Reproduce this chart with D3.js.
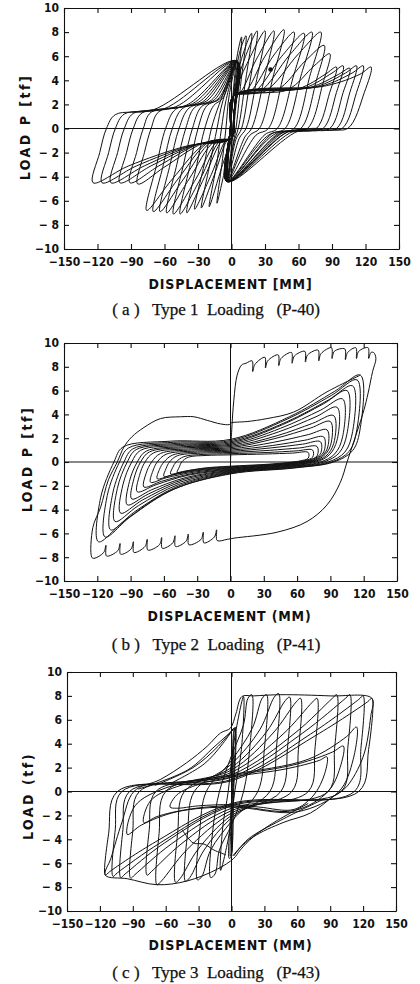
<!DOCTYPE html>
<html lang="en">
<head>
<meta charset="UTF-8">
<title>Load - displacement hysteresis loops</title>
<script src="https://d3js.org/d3.v7.min.js"></script>
<style>
  body { margin: 0; background: #fff; }
  svg { display: block; }
  .tick text { font-family: "DejaVu Sans Condensed", "Liberation Sans Narrow", "DejaVu Sans", sans-serif; font-stretch: condensed; font-weight: bold; font-size: 12px; fill: #111; }
  .tick line, .domain { stroke: #111; stroke-width: 1.1; }
  .axis-title { font-family: "DejaVu Sans Condensed", "Liberation Sans Narrow", "DejaVu Sans", sans-serif; font-stretch: condensed; font-weight: bold; font-size: 14px; fill: #111; }
  .caption { font-family: "Liberation Serif", "DejaVu Serif", serif; font-size: 17px; fill: #111; stroke: #111; stroke-width: 0.25; }
  .loop { fill: none; stroke: #111; stroke-width: 1; }
</style>
</head>
<body>
<svg id="chart" width="420" height="984"></svg>
<script>
// shared axes
const xTicks = [-150, -120, -90, -60, -30, 0, 30, 60, 90, 120, 150];
const xTickLabels = ["\u2212150", "\u2212120", "\u221290", "\u221260", "\u221230", "0", "30", "60", "90", "120", "150"];
const yTicks = [-10, -8, -6, -4, -2, 0, 2, 4, 6, 8, 10];
const yTickLabels = ["\u221210", "\u2212 8", "\u2212 6", "\u2212 4", "\u2212 2", "0", "2", "4", "6", "8", "10"];

// (a) Type 1 loading, cycles growing on the positive side (x, P pairs)
const loopsA_pos = [
  [-4,-4.4, -1,0, 2,3.5, 5,6, 9,7.6, 5,3, 2,0, 0,-1.5],
  [-4,-4.4, -1,0, 2,3, 7,6.2, 13,7.7, 8,3.5, 4,0, 1,-1.5],
  [-4,-4.4, -1,0, 2,2.8, 9,5.8, 18,7.9, 12,3.6, 6,0, 2,-1.2],
  [-4,-4.4, -1,0, 2,2.7, 11,5.6, 23,8.1, 16,3.6, 9,0, 4,-0.9],
  [-4,-4.4, -1,0, 2,2.7, 14,5.4, 30,8.1, 22,3.8, 13,0, 7,-0.8],
  [-4,-4.4, -1,0, 2,2.7, 8,3.0, 22,5.7, 38,8.1, 29,4, 18,0, 12,-0.7],
  [-4,-4.4, -1,0, 2,2.7, 12,3.0, 30,6.0, 47,8.2, 37,4.2, 25,0, 16,-0.6],
  [-4,-4.4, -1,0, 2,2.7, 16,3.0, 38,6.1, 56,8.0, 46,4.2, 33,0, 22,-0.55],
  [-4,-4.4, -1,0, 2,2.7, 20,3.0, 45,6.0, 65,7.9, 55,4.2, 41,0, 30,-0.5],
  [-4,-4.4, -1,0, 2,2.7, 25,3.05, 52,6.1, 72,8.0, 62,4.3, 48,0, 36,-0.45],
  [-4,-4.4, -1,0, 2,2.7, 30,3.1, 60,6.2, 80,8.0, 70,4.3, 56,0, 42,-0.4],
  [-4,-4.4, -1,0, 2,2.7, 40,3.15, 66,5.6, 83,6.9, 76,4, 62,0, 46,-0.35],
  [-4,-4.4, -1,0, 2,2.7, 50,3.2, 74,5.2, 88,6.2, 82,3.8, 68,0, 50,-0.3],
  [-4,-4.4, -1,0, 2,2.7, 60,3.3, 84,4.5, 94,5.1, 88,3, 76,0, 60,-0.25, 35,-0.45],
  [-4,-4.4, -1,0, 2,2.7, 65,3.35, 90,4.6, 100,5.2, 94,3, 82,0, 65,-0.2, 40,-0.4],
  [-4,-4.4, -1,0, 2,2.7, 70,3.4, 96,4.5, 106,5.0, 100,3, 88,0, 70,-0.15, 45,-0.35],
  [-4,-4.4, -1,0, 2,2.7, 75,3.45, 102,4.6, 112,5.2, 106,3, 94,0, 75,-0.1, 50,-0.3],
  [-4,-4.4, -1,0, 2,2.7, 80,3.5, 108,4.6, 118,5.2, 112,3, 99,0, 80,-0.05, 55,-0.25],
  [-4,-4.4, -1,0, 2,2.7, 85,3.55, 115,4.5, 125,5.1, 119,3, 104,0, 85,0, 60,-0.2]
];
// (a) cycles growing on the negative side
const loopsA_neg = [
  [5,5.6, 2,1, 0,-0.8, -5,-3, -13,-6.2, -8,-2.5, -5,0, -2,2.8],
  [5,5.6, 2,1, 0,-0.8, -8,-3, -20,-6.5, -13,-2.8, -9,0, -5,2.3],
  [5,5.6, 2,1, 0,-0.8, -4,-1, -14,-3.5, -27,-6.6, -19,-2.8, -13,0, -8,2.2],
  [5,5.6, 2,1, 0,-0.8, -5,-1, -18,-3.8, -33,-6.7, -24,-2.8, -18,0, -11,2.0],
  [5,5.6, 2,1, 0,-0.8, -8,-1, -24,-4, -40,-7, -31,-3, -24,0, -16,1.9, -8,2.5],
  [5,5.6, 2,1, 0,-0.8, -10,-1, -28,-4.2, -46,-7.1, -37,-3, -30,0, -22,1.9, -10,2.5],
  [5,5.6, 2,1, 0,-0.8, -12,-1, -32,-4.2, -52,-7.1, -43,-3, -35,0, -27,1.8, -12,2.45],
  [5,5.6, 2,1, 0,-0.8, -15,-1.05, -38,-4.2, -58,-7, -49,-3, -41,0, -33,1.75, -15,2.4],
  [5,5.6, 2,1, 0,-0.8, -18,-1.1, -43,-4.2, -64,-6.9, -55,-3, -47,0, -38,1.7, -18,2.35],
  [5,5.6, 2,1, 0,-0.8, -20,-1.1, -48,-4.2, -70,-6.9, -61,-3, -53,0, -44,1.65, -22,2.3],
  [5,5.6, 2,1, 0,-0.8, -22,-1.15, -53,-4.2, -76,-6.8, -67,-3, -59,0, -50,1.6, -26,2.2],
  [5,5.6, 2,1, 0,-0.8, -25,-1.2, -60,-3.2, -84,-4.6, -78,-2, -72,0, -65,1.4, -30,2.15],
  [5,5.6, 2,1, 0,-0.8, -28,-1.25, -65,-3.1, -91,-4.5, -85,-2, -79,0, -72,1.35, -35,2.05],
  [5,5.6, 2,1, 0,-0.8, -30,-1.3, -72,-3.1, -100,-4.5, -94,-2, -88,0, -80,1.3, -40,1.95],
  [5,5.6, 2,1, 0,-0.8, -33,-1.35, -78,-3.1, -108,-4.5, -102,-2, -96,0, -88,1.25, -50,1.8],
  [5,5.6, 2,1, 0,-0.8, -36,-1.4, -85,-3.1, -116,-4.5, -110,-2, -104,0, -96,1.2, -60,1.65],
  [5,5.6, 2,1, 0,-0.8, -40,-1.45, -92,-3.1, -124,-4.5, -118,-2, -112,0, -104,1.15, -70,1.55]
];
const markA = [35, 4.9];

// (b) Type 2 loading: first big cycle with relaxation teeth, then shrinking cycles
const outerB = [
  0,0, 1,2.5, 3,5.2, 6,7.3, 10,8.15, 14,8.3, 19.5,8.5, 20,7.6, 22,8.2, 31,8.8, 31.5,7.9, 33.5,8.5,
  43,9.0, 43.5,8.1, 45.5,8.7, 55,9.2, 55.5,8.3, 57.5,8.9, 67,9.3, 67.5,8.4, 69.5,9.0, 79,9.4, 79.5,8.5, 81.5,9.1,
  91,9.6, 91.5,8.7, 93.5,9.3, 103,9.5, 103.5,8.6, 105.5,9.2, 113,9.6, 113.5,8.7, 115.5,9.3, 124,9.6, 124.5,8.7,
  126.5,9.2, 129,9.2, 131,8.7, 128,7.6, 124,5.8, 120,4.3, 111,1.7, 105,0, 99,-1.7, 87,-3.6, 69,-5.0, 42,-5.9,
  3,-6.4, -3,-6.5, -12,-6.6, -12.5,-5.7, -14.5,-6.3, -24,-6.8, -24.5,-5.9, -26.5,-6.5, -37.5,-6.95, -38,-6.05,
  -40,-6.65, -49.5,-7.1, -50,-6.2, -52,-6.8, -61.5,-7.25, -62,-6.35, -64,-6.95, -74.5,-7.4, -75,-6.5, -77,-7.1,
  -87,-7.6, -87.5,-6.7, -89.5,-7.3, -99,-7.75, -99.5,-6.85, -101.5,-7.45, -111.7,-7.9, -112.2,-7.0, -114.2,-7.6,
  -123,-8.1, -125,-8.0, -124,-5.5, -117,-3.8, -110,-1.5, -102,0, -96,1.26, -89,2.1, -78,2.9, -63,3.65, -45,3.8,
  -33,3.8, -21,3.5, -9,3.2, -1,3.15, 1,3.3, 6,3.35, 15,3.4, 33,3.65, 57,4.2, 87,5.9, 117,7.3
];
const loopsB = [
  [-119,-6.7, -117,-3.0, -105,0, -97,1.25, -54,1.75, 0,1.9, 53,3.8, 94,5.95, 117,7.3, 117,2.9, 110,0.95, 93,0, 58,-0.5, 0,-1.0, -54,-2.4, -95,-4.9],
  [-113,-6.3, -111,-2.8, -100,0, -92,1.17, -51,1.66, 0,1.8, 51,3.6, 91,5.6, 114,6.9, 114,2.8, 107,0.9, 91,0, 57,-0.48, 0,-0.95, -51,-2.29, -90,-4.59],
  [-108,-5.7, -106,-2.6, -96,0, -88,1.1, -49,1.56, 0,1.7, 50,3.35, 88,5.2, 110,6.4, 110,2.55, 103,0.83, 88,0, 55,-0.45, 0,-0.9, -49,-2.1, -86,-4.16],
  [-104,-5.0, -102,-2.25, -93,0, -85,1.04, -47,1.47, 0,1.6, 47,3.14, 84,4.9, 105,6.0, 105,2.4, 98,0.78, 84,0, 52,-0.43, 0,-0.85, -47,-1.89, -83,-3.67],
  [-99,-4.3, -97,-1.94, -89,0, -81,0.98, -45,1.38, 0,1.5, 45,2.83, 81,4.35, 101,5.3, 101,2.12, 94,0.69, 81,0, 50,-0.4, 0,-0.8, -45,-1.68, -79,-3.18],
  [-93,-3.6, -91,-1.62, -84,0, -76,0.91, -42,1.29, 0,1.4, 43,2.52, 77,3.8, 96,4.6, 96,1.84, 89,0.6, 77,0, 48,-0.38, 0,-0.75, -42,-1.46, -74,-2.69],
  [-89,-3.1, -87,-1.4, -81,0, -73,0.85, -40,1.2, 0,1.3, 42,2.21, 74,3.25, 93,3.9, 93,1.56, 86,0.5, 74,0, 46,-0.35, 0,-0.7, -40,-1.3, -71,-2.33],
  [-84,-2.5, -82,-1.13, -77,0, -69,0.78, -38,1.1, 0,1.2, 40,1.97, 72,2.85, 90,3.4, 90,1.36, 83,0.44, 72,0, 45,-0.33, 0,-0.65, -38,-1.11, -67,-1.91],
  [-78,-2.1, -76,-0.95, -71,0, -63,0.72, -35,1.01, 0,1.1, 39,1.66, 70,2.3, 87,2.7, 87,1.08, 80,0.35, 70,0, 43,-0.3, 0,-0.6, -35,-0.98, -62,-1.62],
  [-72,-1.7, -70,-0.77, -66,0, -58,0.65, -32,0.92, 0,1.0, 38,1.39, 67,1.83, 84,2.1, 84,0.84, 77,0.27, 67,0, 42,-0.28, 0,-0.55, -32,-0.84, -58,-1.33],
  [-66,-1.4, -64,-0.63, -60,0, -52,0.59, -30,0.83, 0,0.9, 36,1.18, 65,1.5, 81,1.7, 81,0.68, 74,0.22, 65,0, 40,-0.25, 0,-0.5, -30,-0.73, -53,-1.11],
  [-60,-1.2, -58,-0.54, -55,0, -48,0.52, -27,0.74, 0,0.8, 35,0.98, 62,1.18, 78,1.3, 78,0.52, 71,0.17, 62,0, 39,-0.23, 0,-0.45, -27,-0.64, -48,-0.96],
  [-54,-1.0, -52,-0.45, -49,0, -42,0.45, -24,0.64, 0,0.7, 33,0.8, 59,0.93, 74,1.0, 74,0.4, 67,0.13, 59,0, 37,-0.2, 0,-0.4, -24,-0.55, -43,-0.8],
  [-48,-0.9, -46,-0.4, -44,0, -38,0.4, -22,0.55, 0,0.6, 31,0.67, 56,0.75, 70,0.8, 70,0.32, 63,0.1, 56,0, 35,-0.18, 0,-0.35, -22,-0.49, -38,-0.72]
];

// (c) Type 3 loading
const outerC = [
  -115,-7.0, -110,-5.6, -100,-2.6, -89,0, -65,1.0, -41,2.4, -22,3.8, -10,4.9, -1,5.3, 4,6.5, 9.5,7.95, 20,8.0,
  45,8.1, 90,8.0, 128,7.8, 127,6.3, 120,2.9, 105,0.4, 93,-0.4, 72,-1.8, 47,-2.6, 20,-3.8, 8,-4.9, 2,-5.6,
  -13,-6.5, -41,-7.5, -68,-7.8, -95,-7.3
];
const loopsC = [
  [-10,-6.6, -8,-3, -3,0, 2,4, 11,7.95, 9,3.5, 3,0, -2,-3.5],
  [-19,-7.2, -17,-3.2, -11,0, 0,3.0, 11,5.6, 15,7.8, 18.6,8.1, 16.6,3.6, 11,0, 0,-2.8, -11,-4.9, -15,-6.9],
  [-31,-7.4, -29,-3.3, -23,0, 0,2.6, 19,5.3, 28,7.8, 32,8.1, 30,3.6, 24,0, 0,-2.5, -19,-4.9, -27,-7.1],
  [-42,-7.5, -40,-3.4, -34,0, 0,2.3, 26,5.2, 39,7.9, 43,8.2, 41,3.7, 35,0, 0,-2.2, -25,-4.9, -38,-7.2],
  [-51,-7.6, -49,-3.4, -43,0, 0,2.0, 32,5.0, 49,7.6, 53,7.9, 51,3.6, 45,0, 0,-2.0, -31,-4.9, -47,-7.3],
  [-68,-7.8, -66,-3.5, -60,0, 0,1.8, 38,4.9, 59,7.5, 63,7.8, 61,3.5, 55,0, 0,-1.8, -41,-4.9, -64,-7.5],
  [-77,-7.0, -75,-3.2, -69,0, 0,1.6, 47,4.8, 74,7.5, 78,7.8, 76,3.5, 70,0, 0,-1.6, -46,-4.4, -73,-6.7],
  [-92,-7.25, -90,-3.3, -84,0, 0,1.4, 58,4.9, 92,7.8, 96,8.1, 94,3.6, 88,0, 0,-1.4, -55,-4.4, -88,-6.95],
  [-101,-7.2, -99,-3.2, -93,0, 0,1.2, 65,4.9, 104,7.8, 108,8.1, 106,3.6, 100,0, 0,-1.2, -61,-4.3, -97,-6.9],
  [-108,-7.1, -106,-3.2, -100,0, 0,1.0, 72,4.8, 116,7.7, 120,8.0, 118,3.6, 112,0, 0,-1.1, -65,-4.3, -104,-6.8],
  [-115,-7.0, -112,-3.5, -104,0, 0,0.9, 77,4.7, 124,7.5, 128,7.8, 125,3.5, 116,0, 0,-1.0, -69,-4.2, -111,-6.7],
  [-56,-1.3, -50,-0.3, -30,0.6, 0,1.2, 50,1.9, 80,2.6, 87,2.9, 85,1.5, 75,-0.3, 57,-1.5, 25,-1.3, 0,-1.1, -30,-1.2, -50,-1.4],
  [-80,-2.6, -74,-0.8, -50,0.4, 0,1.3, 60,2.3, 92,3.3, 102,3.8, 99,2.0, 88,0, 57,-1.6, 0,-1.2, -40,-1.5, -68,-2.1],
  [-95,-3.6, -88,-1.2, -60,0.3, 0,1.4, 70,2.7, 105,4.6, 114,5.4, 111,2.7, 98,0, 60,-1.7, 0,-1.3, -50,-1.7, -82,-2.8],
  [-1,-5.4, 1,0, 3,5.3, 4,5.0, 2,0, 0,-5.2],
  [-2,-5.6, 0.5,0, 2,5.0, 3.5,5.4, 1.5,0, -0.5,-5.5]
];
const linesC = [
  [-85,0.2, -40,1.8, -15,3.8, 2,5.2],
  [-70,0.5, -35,2.0, -12,3.8, 2,5.3],
  [-55,0.7, -25,2.3, -8,4.0, 2,5.3],
  [85,-0.6, 45,-2.4, 15,-4.0, 2,-5.4],
  [70,-1.0, 35,-2.8, 10,-4.5, 1,-5.4],
  [-45,-3.2, -35,-4.3, -25,-4.4, -16,-4.9, -5,-5.3]
];

const panels = [
  { frame: {left: 64, right: 399, top: 8, bottom: 249},
    closed: loopsA_pos.concat(loopsA_neg), open: [], mark: markA,
    yTitle: "LOAD P [tf]", yTitlePos: [25, 127], xTitle: "DISPLACEMENT [MM]", xTitleY: 289,
    caption: "( a )   Type 1  Loading   (P-40)", captionY: 315 },
  { frame: {left: 64, right: 397, top: 343, bottom: 581},
    closed: loopsB, open: [outerB], mark: null,
    yTitle: "LOAD P [tf]", yTitlePos: [27, 459], xTitle: "DISPLACEMENT (MM)", xTitleY: 621,
    caption: "( b )   Type 2  Loading   (P-41)", captionY: 650 },
  { frame: {left: 67, right: 396, top: 672, bottom: 911},
    closed: [outerC].concat(loopsC), open: linesC, mark: null,
    yTitle: "LOAD  (tf)", yTitlePos: [28, 796], xTitle: "DISPLACEMENT (MM)", xTitleY: 950,
    caption: "( c )   Type 3  Loading   (P-43)", captionY: 978 }
];

const svg = d3.select("#chart");
const pairs = a => d3.range(0, a.length, 2).map(i => [a[i], a[i + 1]]);

panels.forEach(p => {
  const f = p.frame;
  const x = d3.scaleLinear().domain([-150, 150]).range([f.left, f.right]);
  const y = d3.scaleLinear().domain([-10, 10]).range([f.bottom, f.top]);
  const g = svg.append("g");

  // zero lines
  g.append("line").attr("x1", x(0)).attr("x2", x(0)).attr("y1", f.top).attr("y2", f.bottom)
    .attr("stroke", "#111").attr("stroke-width", 1);
  g.append("line").attr("x1", f.left).attr("x2", f.right).attr("y1", y(0)).attr("y2", y(0))
    .attr("stroke", "#111").attr("stroke-width", 1);

  const closedLine = d3.line().x(d => x(d[0])).y(d => y(d[1])).curve(d3.curveCatmullRomClosed.alpha(0.5));
  const openLine = d3.line().x(d => x(d[0])).y(d => y(d[1])).curve(d3.curveCatmullRom.alpha(0.5));

  g.selectAll("path.closed").data(p.closed).enter().append("path")
    .attr("class", "loop closed").attr("d", d => closedLine(pairs(d)));
  g.selectAll("path.open").data(p.open).enter().append("path")
    .attr("class", "loop open").attr("d", d => openLine(pairs(d)));

  if (p.mark) {
    g.append("circle").attr("cx", x(p.mark[0])).attr("cy", y(p.mark[1])).attr("r", 2.3).attr("fill", "#111");
  }

  // axes on all four sides, ticks pointing inward
  g.append("g").attr("transform", `translate(0,${f.bottom})`)
    .call(d3.axisBottom(x).tickValues(xTicks).tickSizeInner(-5).tickSizeOuter(0).tickPadding(8)
      .tickFormat((d, i) => xTickLabels[i]));
  g.append("g").attr("transform", `translate(0,${f.top})`)
    .call(d3.axisTop(x).tickValues(xTicks).tickSizeInner(-5).tickSizeOuter(0).tickFormat(""));
  g.append("g").attr("transform", `translate(${f.left},0)`)
    .call(d3.axisLeft(y).tickValues(yTicks).tickSizeInner(-5).tickSizeOuter(0).tickPadding(5)
      .tickFormat((d, i) => yTickLabels[i]));
  g.append("g").attr("transform", `translate(${f.right},0)`)
    .call(d3.axisRight(y).tickValues(yTicks).tickSizeInner(-5).tickSizeOuter(0).tickFormat(""));

  g.append("text").attr("class", "axis-title")
    .attr("transform", `translate(${p.yTitlePos[0]},${p.yTitlePos[1]}) rotate(-90)`)
    .attr("text-anchor", "middle").attr("dy", "0.35em").style("letter-spacing", "2.5px").text(p.yTitle);
  g.append("text").attr("class", "axis-title")
    .attr("x", (f.left + f.right) / 2 - 1).attr("y", p.xTitleY)
    .attr("text-anchor", "middle").style("letter-spacing", "0.8px").text(p.xTitle);
  g.append("text").attr("class", "caption")
    .attr("x", 216).attr("y", p.captionY).attr("text-anchor", "middle")
    .attr("xml:space", "preserve").style("white-space", "pre").text(p.caption);
});
</script>
</body>
</html>
